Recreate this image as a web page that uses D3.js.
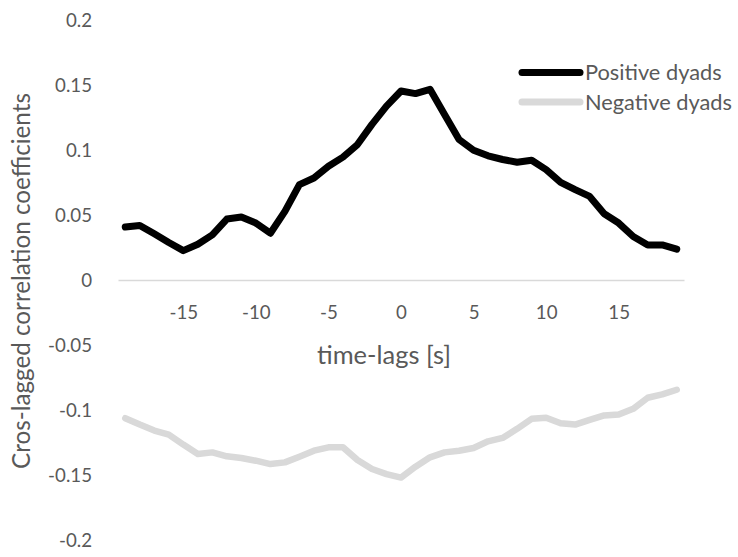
<!DOCTYPE html>
<html>
<head>
<meta charset="utf-8">
<script src="https://cdn.jsdelivr.net/npm/d3@7"></script>
<style>
  html, body { margin: 0; padding: 0; background: #ffffff; }
  svg { display: block; }
</style>
</head>
<body>
<svg id="chart" width="738" height="557"></svg>
<script>
// ---- data ----
const lags = d3.range(-19, 20);
const positiveDyads = [
  0.0407, 0.0420, 0.0355, 0.0288, 0.0226, 0.0275, 0.0347, 0.0469, 0.0484, 0.0438,
  0.0360, 0.0528, 0.0734, 0.0785, 0.0875, 0.0945, 0.1042, 0.1197, 0.1338, 0.1454,
  0.1434, 0.1467, 0.1274, 0.1081, 0.0998, 0.0955, 0.0927, 0.0906, 0.0921, 0.0849,
  0.0751, 0.0695, 0.0643, 0.0510, 0.0438, 0.0335, 0.0270, 0.0270, 0.0237
];
const negativeDyads = [
  -0.1063, -0.1112, -0.1158, -0.1189, -0.1266, -0.1338, -0.1326, -0.1356, -0.1369, -0.1390,
  -0.1416, -0.1403, -0.1359, -0.1313, -0.1287, -0.1287, -0.1385, -0.1454, -0.1493, -0.1520,
  -0.1436, -0.1364, -0.1326, -0.1313, -0.1292, -0.1241, -0.1215, -0.1145, -0.1068, -0.1060,
  -0.1102, -0.1112, -0.1076, -0.1042, -0.1035, -0.0991, -0.0906, -0.0880, -0.0844
];
const xTicks = [-15, -10, -5, 0, 5, 10, 15];
const xTickLabels = ["-15", "-10", "-5", "0", "5", "10", "15"];
const yTicks = [-0.2, -0.15, -0.1, -0.05, 0, 0.05, 0.1, 0.15, 0.2];
const yTickLabels = ["-0.2", "-0.15", "-0.1", "-0.05", "0", "0.05", "0.1", "0.15", "0.2"];
const seriesNames = ["Positive dyads", "Negative dyads"];
const seriesColors = ["#000000", "#d9d9d9"];
const xTitle = "time-lags [s]";
const yTitle = "Cros-lagged correlation coefficients";

// ---- layout ----
const svg = d3.select("#chart");
const font = "Lato, 'Open Sans', 'Liberation Sans', sans-serif";
const textColor = "#595959";

const x = d3.scaleLinear().domain([-19.5, 19.5]).range([118, 684]);
const y = d3.scaleLinear().domain([-0.2, 0.2]).range([540, 20]);

// fit font size of a text element so that its width matches a target
function fit(sel, target) {
  const node = sel.node();
  const fs = parseFloat(sel.attr("font-size"));
  const w = node.getComputedTextLength();
  const nfs = fs * target / w;
  return nfs;
}

// y tick labels
const yLab = svg.append("g").selectAll("text")
  .data(yTicks)
  .join("text")
  .attr("x", 92)
  .attr("y", d => y(d))
  .attr("dy", "0.35em")
  .attr("text-anchor", "end")
  .attr("font-family", font)
  .attr("font-size", 18)
  .attr("fill", textColor)
  .text((d, i) => yTickLabels[i]);
const tickFs = fit(yLab.filter(d => d === 0.15), 37);
yLab.attr("font-size", tickFs);

// zero axis line
const xAxis = d3.axisBottom(x).tickValues(xTicks).tickSize(0).tickPadding(24)
  .tickFormat((d, i) => xTickLabels[i]);
const gx = svg.append("g").attr("transform", `translate(0,${y(0)})`).call(xAxis);
gx.select(".domain").attr("stroke", "#d9d9d9").attr("stroke-width", 1.5);
gx.selectAll("text")
  .attr("font-family", font)
  .attr("font-size", tickFs)
  .attr("dy", "0.35em")
  .attr("y", 32)
  .attr("fill", textColor);

// lines
const line = d3.line().x((d, i) => x(lags[i])).y(d => y(d));
svg.append("path").datum(negativeDyads)
  .attr("d", line).attr("fill", "none")
  .attr("stroke", seriesColors[1]).attr("stroke-width", 6.5)
  .attr("stroke-linejoin", "round").attr("stroke-linecap", "round");
svg.append("path").datum(positiveDyads)
  .attr("d", line).attr("fill", "none")
  .attr("stroke", seriesColors[0]).attr("stroke-width", 7)
  .attr("stroke-linejoin", "round").attr("stroke-linecap", "round");

// axis titles
const xt = svg.append("text")
  .attr("x", 384).attr("y", 355).attr("dy", "0.35em")
  .attr("text-anchor", "middle")
  .attr("font-family", font).attr("font-size", 20).attr("fill", textColor)
  .text(xTitle);
xt.attr("font-size", fit(xt, 134));
const yt = svg.append("text")
  .attr("transform", `translate(22,281) rotate(-90)`)
  .attr("dy", "0.35em")
  .attr("text-anchor", "middle")
  .attr("font-family", font).attr("font-size", 20).attr("fill", textColor)
  .text(yTitle);
yt.attr("font-size", fit(yt, 376));

// legend
const legend = svg.append("g");
const legendY = [72.5, 102];
const legTexts = [];
seriesNames.forEach((name, i) => {
  legend.append("line")
    .attr("x1", 522).attr("x2", 580)
    .attr("y1", legendY[i]).attr("y2", legendY[i])
    .attr("stroke", seriesColors[i]).attr("stroke-width", 7)
    .attr("stroke-linecap", "round");
  legTexts.push(legend.append("text")
    .attr("x", 585).attr("y", legendY[i]).attr("dy", "0.35em")
    .attr("font-family", font).attr("font-size", 20).attr("fill", textColor)
    .text(name));
});
const legFs = fit(legTexts[1], 147);
legTexts.forEach(t => t.attr("font-size", legFs));
</script>
</body>
</html>
